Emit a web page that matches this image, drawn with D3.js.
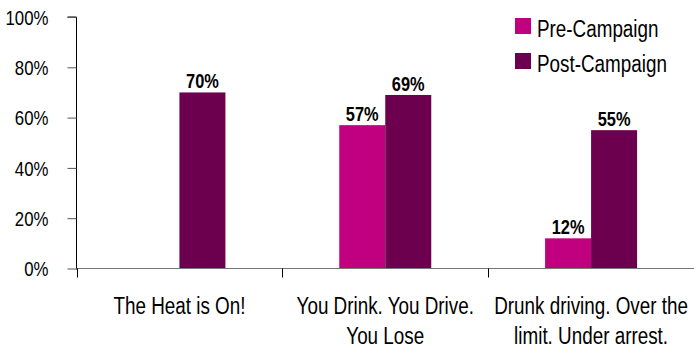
<!DOCTYPE html>
<html>
<head>
<meta charset="utf-8">
<script src="https://cdn.jsdelivr.net/npm/d3@7"></script>
<style>
  html, body { margin: 0; padding: 0; background: #fff; }
  svg text { font-family: "Liberation Sans", Arial, sans-serif; }
</style>
</head>
<body>
<svg id="chart" width="694" height="348"></svg>
<script>
// Campaign awareness, before and after each campaign
const categories = [
  ["The Heat is On!"],
  ["You Drink. You Drive.", "You Lose"],
  ["Drunk driving. Over the", "limit. Under arrest."]
];
const seriesNames = ["Pre-Campaign", "Post-Campaign"];
const preCampaign = [null, 57, 12];
const postCampaign = [70, 69, 55];
const yTicks = [0, 20, 40, 60, 80, 100];
const colors = ["#C1007F", "#6C004E"];

// condensed lettering: squeeze glyphs horizontally around the anchor point
const SQUEEZE = 0.82;
function condense(sel) {
  sel.each(function () {
    const t = d3.select(this);
    const x = +t.attr("x") || 0, y = +t.attr("y") || 0;
    t.attr("x", 0).attr("y", 0)
      .attr("transform", `translate(${x},${y}) scale(${SQUEEZE},1)`);
  });
}

const svg = d3.select("#chart");
const margin = { left: 76.5, top: 17 };
const width = 694;
const plotBottom = 268.5;

const x0 = d3.scaleBand()
  .domain(d3.range(categories.length))
  .range([margin.left, width])
  .paddingInner(0).paddingOuter(0);

const bandW = x0.bandwidth();
const barW = 46;
const x1 = d3.scaleBand()
  .domain(seriesNames)
  .range([bandW / 2 - barW, bandW / 2 + barW]);

const y = d3.scaleLinear().domain([0, 100]).range([plotBottom, margin.top]);

// y axis
const yAxis = svg.append("g")
  .attr("transform", `translate(${margin.left},0)`)
  .call(d3.axisLeft(y).tickValues(yTicks).tickSize(9).tickPadding(19)
    .tickFormat(d => d + "%"));
yAxis.select(".domain").attr("stroke", "#000").attr("d", `M-9,${y(100)}H0V${plotBottom + 1}`);
yAxis.selectAll(".tick line").attr("stroke", "#555");
yAxis.selectAll(".tick text")
  .attr("font-size", 20.5).attr("fill", "#000").attr("dy", "0.36em")
  .call(condense);

// bars
const data = [];
categories.forEach((c, i) => {
  [preCampaign, postCampaign].forEach((s, j) => {
    if (s[i] != null) data.push({ cat: i, series: seriesNames[j], value: s[i], color: colors[j] });
  });
});

svg.append("g").selectAll("rect").data(data).join("rect")
  .attr("x", d => x0(d.cat) + x1(d.series))
  .attr("width", x1.bandwidth())
  .attr("y", d => y(d.value))
  .attr("height", d => plotBottom - y(d.value))
  .attr("fill", d => d.color);

svg.append("g").selectAll("text").data(data).join("text")
  .attr("x", d => x0(d.cat) + x1(d.series) + x1.bandwidth() / 2)
  .attr("y", d => y(d.value) - 4)
  .attr("text-anchor", "middle")
  .attr("font-size", 20)
  .attr("font-weight", "bold")
  .attr("fill", "#000")
  .text(d => d.value + "%")
  .call(condense);

// x axis
const xAxis = svg.append("g")
  .attr("transform", `translate(0,${plotBottom})`);
xAxis.append("line")
  .attr("x1", margin.left).attr("x2", width)
  .attr("stroke", "#777");
const boundaries = d3.range(categories.length + 1).map(i => margin.left + i * bandW);
xAxis.selectAll("line.tick").data(boundaries).join("line")
  .attr("class", "tick")
  .attr("x1", d => Math.round(d) + 0.5).attr("x2", d => Math.round(d) + 0.5)
  .attr("y1", 0).attr("y2", 9)
  .attr("stroke", "#000");

// category labels
const labels = svg.append("g").selectAll("text").data(categories).join("text")
  .attr("x", (d, i) => x0(i) + bandW / 2)
  .attr("y", 313.5)
  .attr("text-anchor", "middle")
  .attr("font-size", 23)
  .attr("fill", "#000")
  .call(condense);
labels.selectAll("tspan").data(d => d).join("tspan")
  .attr("x", 0)
  .attr("dy", (d, i) => i === 0 ? 0 : 31)
  .text(d => d);

// legend
const legend = svg.append("g").selectAll("g").data(seriesNames).join("g")
  .attr("transform", (d, i) => `translate(515,${18 + i * 35})`);
legend.append("rect").attr("width", 16).attr("height", 16)
  .attr("fill", (d, i) => colors[i]);
legend.append("text").attr("x", 22).attr("y", 18.5)
  .attr("font-size", 23).attr("fill", "#000")
  .text(d => d)
  .call(condense);
</script>
</body>
</html>
